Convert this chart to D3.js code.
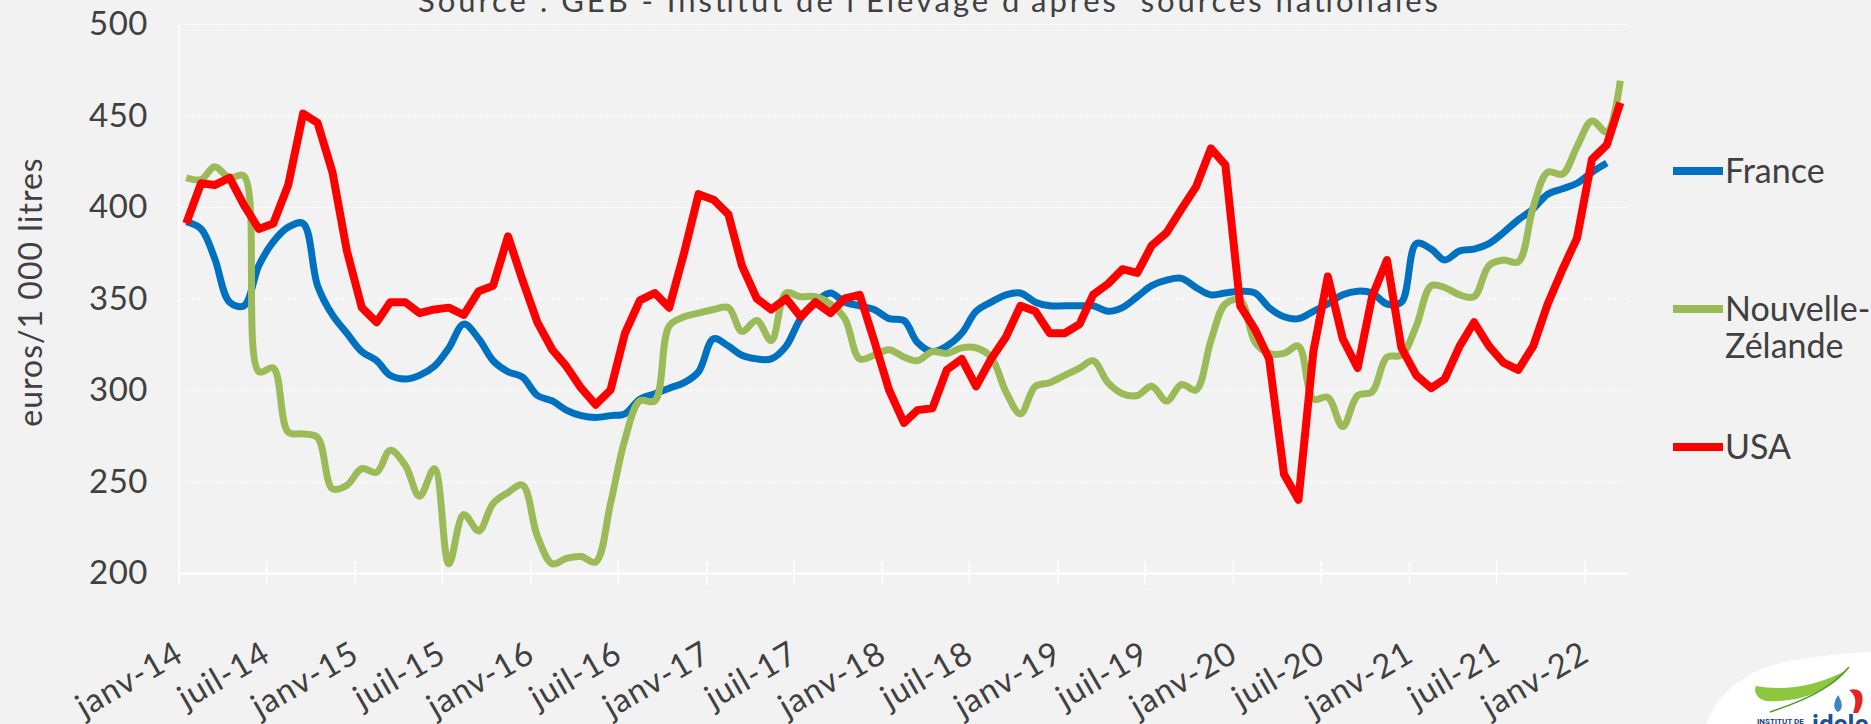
<!DOCTYPE html>
<html lang="fr">
<head>
<meta charset="utf-8">
<script src="https://cdn.jsdelivr.net/npm/d3@7"></script>
<style>
  html, body { margin: 0; padding: 0; background: #f2f2f2; }
  svg { display: block; font-family: "Century Gothic", "Lato", "Noto Sans", sans-serif; }
</style>
</head>
<body>
<svg id="chart" width="1871" height="724"></svg>
<script>
// Prix du lait (euros/1 000 litres), moyenne mensuelle, janv-14 -> mars-22
const startYear = 2014;

const france = [
  392, 388, 372, 348, 346, 368, 381, 389, 391, 357, 341, 331,
  321, 316, 308, 306, 308, 313, 323, 336, 328, 316, 310, 307,
  297, 294, 289, 286, 285, 286, 287, 295, 298, 301, 304, 310,
  328, 324, 319, 317, 317, 324, 339, 348, 353, 348, 346, 344,
  339, 338, 326, 321, 324, 331, 343, 348, 352, 353, 348, 346,
  346, 346, 346, 343, 345, 351, 357, 360, 361, 356, 352, 353,
  354, 353, 345, 340, 339, 343, 347, 352, 354, 353, 347, 348,
  380, 377, 371, 376, 377, 380, 386, 393, 399, 407, 410, 413,
  419, 424
];

const nouvelleZelande = [
  416, 415, 422, 416, 417, 310, 312, 277, 276, 274, 246, 248,
  257, 255, 267, 259, 242, 257, 205, 232, 223, 238, 244, 248,
  220, 205, 208, 209, 206, 238, 273, 294, 294, 335, 340, 342,
  344, 345, 332, 338, 327, 353, 351, 351, 347, 339, 317, 319,
  322, 318, 316, 321, 320, 323, 323, 318, 299, 287, 302, 304,
  308, 312, 316, 304, 298, 297, 302, 294, 303, 300, 327, 347,
  349, 326, 320, 320, 324, 295, 296, 280, 297, 299, 318, 319,
  335, 357, 356, 352, 351, 368, 371, 370, 400, 419, 418, 433,
  447, 441, 469
];

const usa = [
  391, 413, 412, 416, 401, 388, 391, 412, 451, 446, 419, 376,
  345, 337, 348, 348, 342, 344, 345, 341, 354, 357, 384, 360,
  337, 322, 313, 301, 292, 300, 331, 349, 353, 345, 375, 407,
  404, 396, 368, 350, 344, 350, 340, 348, 342, 350, 352, 327,
  300, 282, 289, 290, 311, 317, 302, 317, 329, 346, 343, 331,
  331, 336, 352, 358, 366, 364, 379, 386, 399, 411, 432, 423,
  346, 333, 317, 254, 240, 321, 362, 328, 312, 351, 371, 323,
  308, 301, 306, 324, 337, 324, 315, 311, 324, 347, 366, 383,
  426, 434, 457
];

const xTickLabels = [
  "janv-14", "juil-14", "janv-15", "juil-15", "janv-16", "juil-16",
  "janv-17", "juil-17", "janv-18", "juil-18", "janv-19", "juil-19",
  "janv-20", "juil-20", "janv-21", "juil-21", "janv-22"
];

const yTicks = [200, 250, 300, 350, 400, 450, 500];

const seriesNames = ["France", "Nouvelle-Zélande", "USA"];
const seriesColors = ["#0070C0", "#9BBB59", "#FF0000"];

// ---------------------------------------------------------------
const svg = d3.select("#chart");
const W = 1871, H = 724;
const plot = { left: 179, right: 1628, top: 24, bottom: 573 };
const textColor = "#404040";
const labelFont = "\"Century Gothic\", Lato, sans-serif";

svg.append("rect").attr("width", W).attr("height", H).attr("fill", "#f2f2f2");

const x = d3.scaleTime()
  .domain([new Date(startYear, 0, 1), new Date(2022, 3, 1)])
  .range([plot.left, plot.right]);

const y = d3.scaleLinear()
  .domain([200, 500])
  .range([plot.bottom, plot.top]);

// Each monthly value sits in the middle of its month
const toPoints = values => values.map((v, i) => ({ date: new Date(startYear, i, 16), value: v }));

// Horizontal grid + value labels
const yAxis = d3.axisLeft(y)
  .tickValues(yTicks)
  .tickSize(-(plot.right - plot.left))
  .tickPadding(31)
  .tickFormat(d3.format("d"));

const gy = svg.append("g")
  .attr("transform", `translate(${plot.left},0)`)
  .call(yAxis);
gy.select(".domain").remove();
gy.selectAll(".tick line")
  .attr("stroke", "#ffffff")
  .attr("stroke-width", d => d === 200 ? 2 : 1)
  .attr("stroke-dasharray", d => d === 200 ? null : "4 2");
gy.selectAll(".tick text")
  .attr("fill", textColor)
  .attr("font-size", 33)
  .attr("letter-spacing", 0.5)
  .attr("font-family", labelFont);

// Left axis line
svg.append("line")
  .attr("x1", plot.left).attr("x2", plot.left)
  .attr("y1", plot.top).attr("y2", plot.bottom + 12)
  .attr("stroke", "#ffffff").attr("stroke-width", 1.5);

// Time axis: cross ticks every six months
const tickDates = d3.timeMonth.every(6).range(new Date(startYear, 0, 1), new Date(2022, 1, 1));
const xAxis = d3.axisBottom(x)
  .tickValues(tickDates)
  .tickSize(12)
  .tickFormat((d, i) => xTickLabels[i]);

const gx = svg.append("g")
  .attr("transform", `translate(0,${plot.bottom})`)
  .call(xAxis);
gx.select(".domain").remove();
gx.selectAll(".tick line")
  .attr("y1", -12).attr("y2", 12)
  .attr("stroke", "#ffffff").attr("stroke-width", 1.5);
gx.selectAll(".tick text")
  .attr("fill", textColor)
  .attr("font-size", 33)
  .attr("letter-spacing", 1)
  .attr("font-family", labelFont)
  .attr("text-anchor", "end")
  .attr("dy", 0)
  .attr("y", 0)
  .attr("transform", "translate(6,87) rotate(-30)");

// Axis title
svg.append("text")
  .attr("transform", `translate(42,292) rotate(-90)`)
  .attr("text-anchor", "middle")
  .attr("fill", textColor)
  .attr("font-size", 32)
  .attr("letter-spacing", 1)
  .text("euros/1 000 litres");

// Source line at the top (partly outside the frame)
svg.append("text")
  .attr("x", 928).attr("y", 12)
  .attr("text-anchor", "middle")
  .attr("fill", textColor)
  .attr("font-size", 31)
  .attr("textLength", 1020)
  .attr("lengthAdjust", "spacing")
  .style("white-space", "pre")
  .text("Source : GEB - Institut de l'Elevage d'après  sources nationales");

// Series lines
const smooth = d3.line()
  .x(d => x(d.date)).y(d => y(d.value))
  .curve(d3.curveCatmullRom.alpha(0.5));
const straight = d3.line()
  .x(d => x(d.date)).y(d => y(d.value));

const series = [
  { name: seriesNames[0], color: seriesColors[0], values: france, gen: smooth, width: 7 },
  { name: seriesNames[1], color: seriesColors[1], values: nouvelleZelande, gen: smooth, width: 7 },
  { name: seriesNames[2], color: seriesColors[2], values: usa, gen: straight, width: 8 }
];

svg.append("g").selectAll("path")
  .data(series)
  .join("path")
  .attr("d", s => s.gen(toPoints(s.values)))
  .attr("fill", "none")
  .attr("stroke", s => s.color)
  .attr("stroke-width", s => s.width)
  .attr("stroke-linejoin", "round")
  .attr("stroke-linecap", "butt");

// Legend
const legendY = [171, 309, 447];
const legend = svg.append("g");
series.forEach((s, i) => {
  legend.append("line")
    .attr("x1", 1673).attr("x2", 1723)
    .attr("y1", legendY[i]).attr("y2", legendY[i])
    .attr("stroke", s.color).attr("stroke-width", 8);
  const t = legend.append("text")
    .attr("x", 1725).attr("y", legendY[i] + 12)
    .attr("fill", textColor)
    .attr("font-size", 34);
  if (s.name === "Nouvelle-Zélande") {
    t.append("tspan").attr("x", 1725).text("Nouvelle-");
    t.append("tspan").attr("x", 1725).attr("dy", 37).text("Zélande");
  } else {
    t.text(s.name);
  }
});

// Institute logo, bottom right corner
const logo = svg.append("g");
logo.append("path")
  .attr("d", "M1706,724 C1716,696 1742,670 1790,661 C1822,655 1850,653 1871,652 L1871,724 Z")
  .attr("fill", "#ffffff");
logo.append("path")
  .attr("d", "M1756,686 C1782,691 1818,687 1848,669 C1832,690 1800,703 1766,701 C1758,699 1753,693 1756,686 Z")
  .attr("fill", "#8dc63f");
logo.append("path")
  .attr("d", "M1770,712 C1800,702 1830,690 1849,667")
  .attr("fill", "none").attr("stroke", "#4e9a2a").attr("stroke-width", 1.5);
logo.append("path")
  .attr("d", "M1838,695 C1842,702 1844,708 1838,712 C1832,708 1834,702 1838,695 Z")
  .attr("fill", "#3d84c6");
logo.append("path")
  .attr("d", "M1849,690 C1864,686 1866,700 1858,713 L1853,713 C1857,702 1856,695 1849,690 Z")
  .attr("fill", "#e52421");
logo.append("text")
  .attr("x", 1757).attr("y", 724)
  .attr("font-size", 8).attr("font-weight", 700)
  .attr("font-family", "Roboto, sans-serif")
  .attr("fill", "#1d3f7a")
  .text("INSTITUT DE");
logo.append("text")
  .attr("x", 1812).attr("y", 733)
  .attr("font-size", 26).attr("font-weight", 700)
  .attr("font-family", "Roboto, sans-serif")
  .attr("fill", "#1f4e96")
  .text("idele");
</script>
</body>
</html>
